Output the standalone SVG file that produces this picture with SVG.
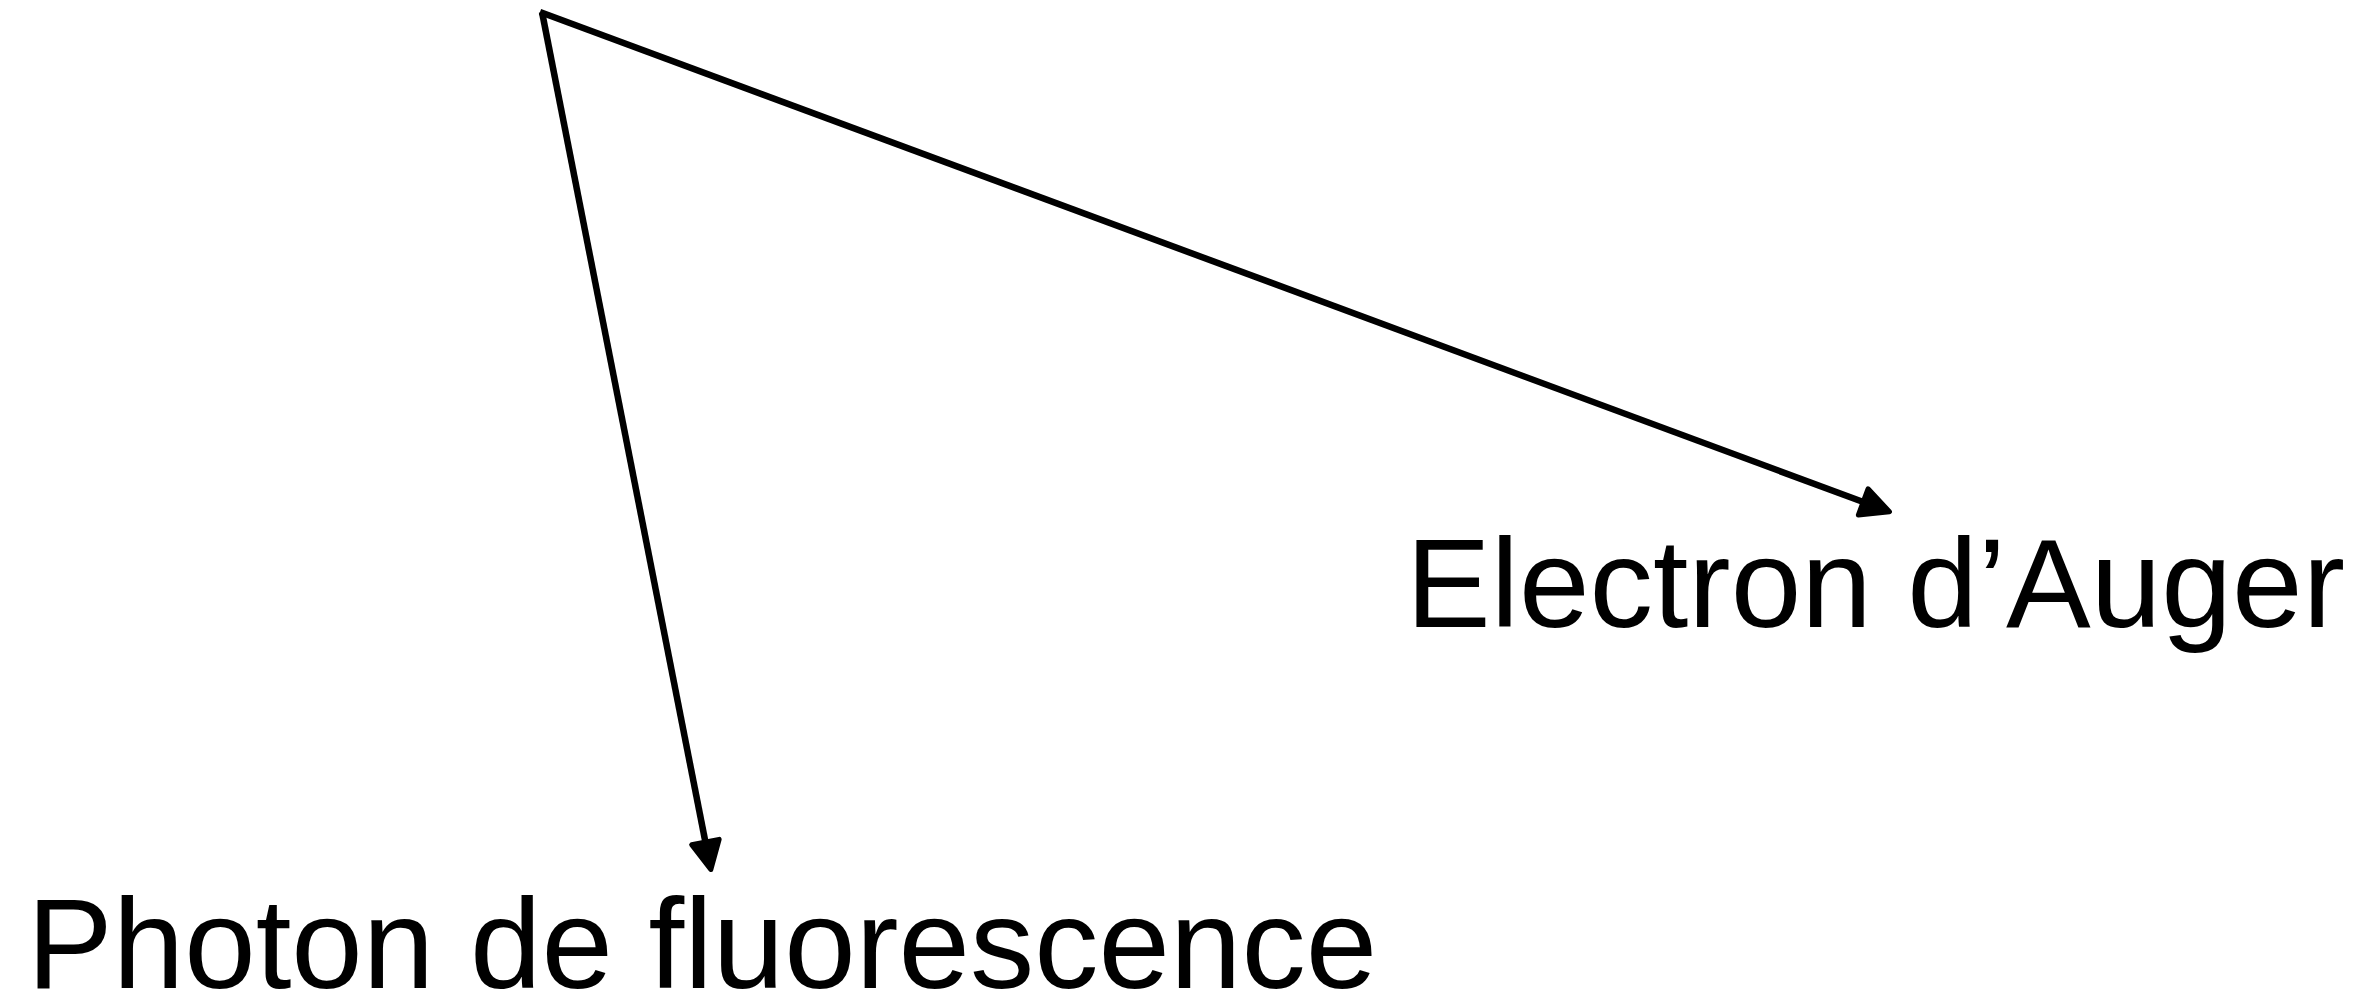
<svg xmlns="http://www.w3.org/2000/svg" width="2369" height="999" viewBox="0 0 2369 999">
  <style>
    .lbl { font-family: "Liberation Sans", Arial, sans-serif; font-size: 127px; fill: #000; }
    .conn { stroke: #000; stroke-width: 6.5; fill: none; stroke-linecap: butt; }
  </style>
  <defs>
    <marker id="arrow" markerUnits="userSpaceOnUse" markerWidth="44" markerHeight="44" viewBox="-5 -5 44 44" refX="3" refY="16" orient="auto">
      <path d="M0,2 L28,16 L0,30 z" fill="#000" stroke="#000" stroke-width="5" stroke-linejoin="round"/>
    </marker>
  </defs>
  <rect width="2369" height="999" fill="#fff"/>
  <g id="connectors">
    <line class="conn" x1="542" y1="12" x2="706" y2="845" marker-end="url(#arrow)"/>
    <line class="conn" x1="540" y1="12" x2="1866" y2="503" marker-end="url(#arrow)"/>
  </g>
  <g id="node-photon">
    <text class="lbl" x="27" y="988" style="font-size:128.5px">Photon de fluorescence</text>
  </g>
  <g id="node-auger">
    <text class="lbl" x="1406" y="627">Electron d’Auger</text>
  </g>
</svg>
